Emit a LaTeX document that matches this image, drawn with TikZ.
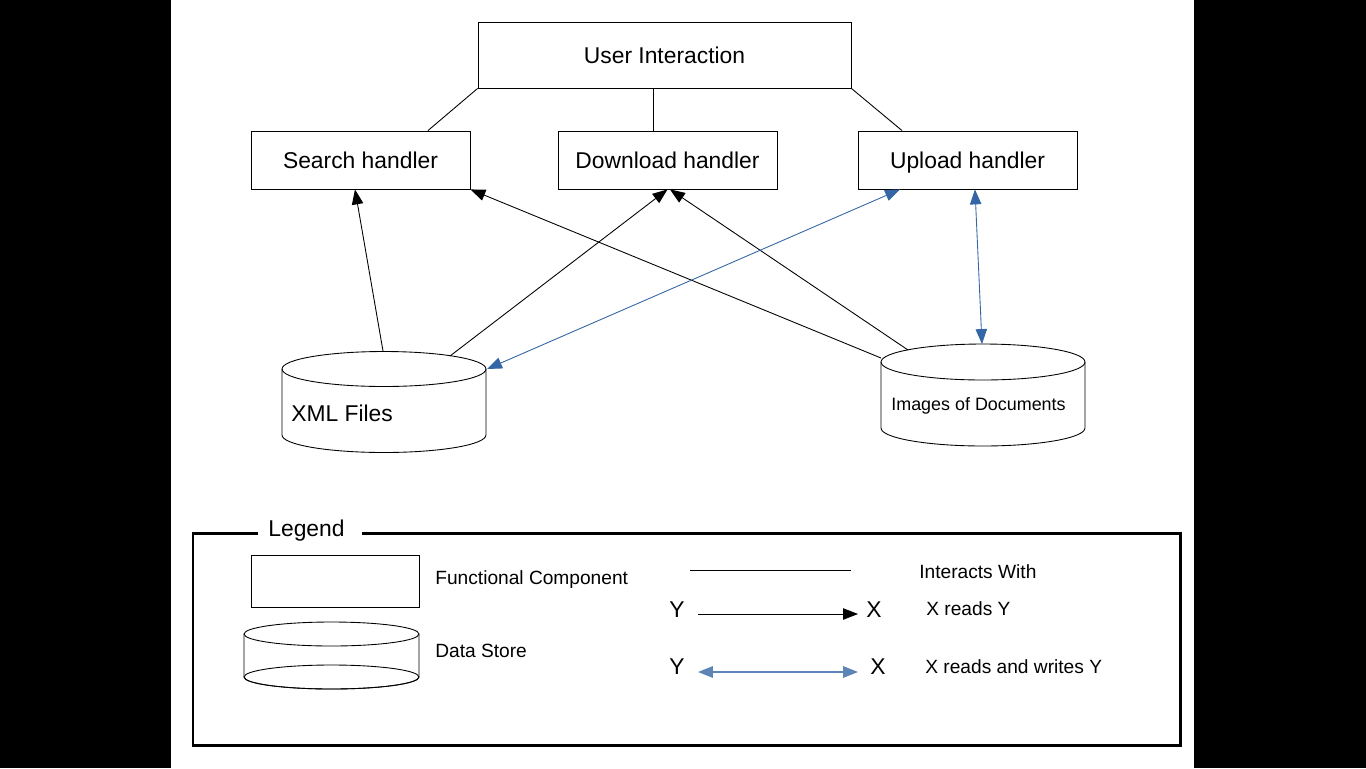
\documentclass[tikz,border=0pt]{standalone}
\usepackage{fontspec}
\setmainfont{Liberation Sans}
\usetikzlibrary{arrows.meta,calc}
\definecolor{linkblue}{HTML}{3465A4}
% data store drum: centre x, top y, bottom y, x radius (cm), y radius (cm)
\newcommand\datastore[5]{%
  \draw[line width=0.5pt] ({#1-#4*50},#2) -- ({#1-#4*50},#3)
    arc[start angle=180,end angle=360,x radius=#4cm,y radius=#5cm] -- ({#1+#4*50},#2);
  \draw[line width=0.5pt] (#1,#2) ellipse[x radius=#4cm,y radius=#5cm];}
\begin{document}
\begin{tikzpicture}[x=0.02cm,y=-0.02cm,
  comp/.style={draw, line width=0.5pt, inner sep=0pt, text height=0.98em, text depth=0pt,
               font=\fontsize{13}{15}\selectfont},
  big/.style={font=\fontsize{13}{15}\selectfont, inner sep=0pt},
  small/.style={font=\fontsize{10.9}{13}\selectfont, inner sep=0pt},
  link/.style={line width=0.5pt},
  reads/.style={line width=0.5pt, -{Triangle[length=8.5pt,width=6.5pt]}},
  rw/.style={line width=0.5pt, linkblue,
             {Triangle[length=8.5pt,width=6.5pt]}-{Triangle[length=8.5pt,width=6.5pt]}},
]
\useasboundingbox (0,0) rectangle (1366,768);
\fill[black] (0,0) rectangle (171,768);
\fill[black] (1194,0) rectangle (1366,768);

% functional components
\node[comp, minimum width=7.46cm, minimum height=1.32cm] (ui) at (664.5,55) {User Interaction};
\node[comp, minimum width=4.38cm, minimum height=1.16cm] (search) at (360.5,160) {Search handler};
\node[comp, minimum width=4.38cm, minimum height=1.16cm] (dl) at (667.5,160) {Download handler};
\node[comp, minimum width=4.38cm, minimum height=1.16cm] (up) at (967.5,160) {Upload handler};

% data stores
\datastore{384}{369}{435}{2.04}{0.35}
\datastore{983}{362}{428}{2.04}{0.36}
\node[big, anchor=base west] (xml) at (291,421) {XML Files};
\node[font=\fontsize{10.2}{12}\selectfont, inner sep=0pt, anchor=base west] (img) at (891,410) {Images of Documents};

\coordinate (xmlA) at (383,351);
\coordinate (xmlB) at (450,356);
\coordinate (xmlC) at (487,369);
\coordinate (imgA) at (881,358);
\coordinate (imgB) at (908,350);
\coordinate (imgC) at (982,344);

% interactions
\coordinate (uib) at ([xshift=-0.23cm]ui.south);
\draw[link] (ui.south west) -- ([xshift=1.35cm]search.north);
\draw[link] (uib) -- (uib |- dl.north);
\draw[link] (ui.south east) -- ([xshift=-1.31cm]up.north);

% reads
\draw[reads] (xmlA) -- ([xshift=-0.11cm]search.south);
\draw[reads] (xmlB) -- (dl.south);
\draw[reads] (imgA) -- (search.south east);
\draw[reads] (imgB) -- ([xshift=0.05cm]dl.south);

% reads and writes
\draw[rw] ([xshift=-1.35cm]up.south) -- (xmlC);
\draw[rw] ([xshift=0.15cm]up.south) -- (imgC);

% legend
\draw[line width=1.7pt] (258,533) -| (193,745) -| (1180,533) -- (362,533);
\node[big, anchor=base west] (legend) at (268,536) {Legend};

\node[draw, line width=0.5pt, minimum width=3.36cm, minimum height=1.04cm, inner sep=0pt] (keycomp) at (335,581) {};
\datastore{331.5}{634}{677}{1.75}{0.24}
\draw[line width=0.5pt] (331.5,677) ellipse[x radius=1.75cm,y radius=0.24cm];
\node[small, anchor=base west] (keycompt) at (435,584) {Functional Component};
\node[small, anchor=base west] (keystoret) at (435,657) {Data Store};

\coordinate (ia) at (690,570);
\coordinate (ib) at (851,570);
\draw[link] (ia) -- (ib);
\node[small, anchor=base west] (keyint) at (919,578) {Interacts With};

\node[big, anchor=base] (ry) at (677,617) {Y};
\node[big, anchor=base] (rx) at (874,617) {X};
\coordinate (ra) at (698,614);
\coordinate (rb) at (858,614);
\draw[reads] (ra) -- (rb);
\node[small, anchor=base west] (keyread) at (926,615) {X reads Y};

\node[big, anchor=base] (wy) at (677,674) {Y};
\node[big, anchor=base] (wx) at (878,674) {X};
\coordinate (wa) at (698,672);
\coordinate (wb) at (858,672);
\draw[rw, line width=1pt, linkblue!80] (wa) -- (wb);
\node[small, anchor=base west] (keyrw) at (925,673) {X reads and writes Y};
\end{tikzpicture}
\end{document}
